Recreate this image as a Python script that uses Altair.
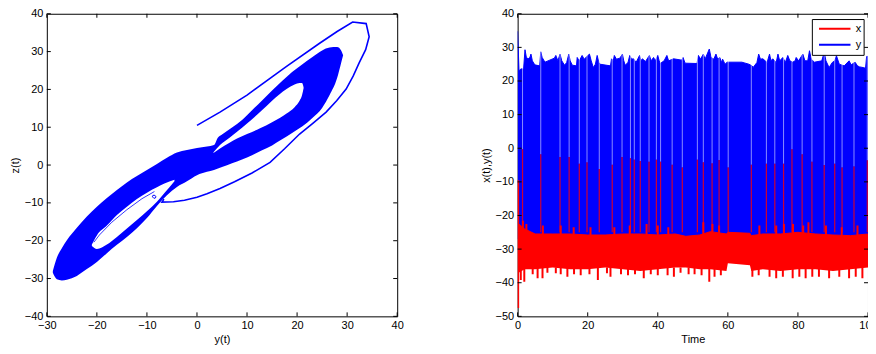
import altair as alt
import pandas as pd

FONT = "Liberation Sans"
BLUE = "#0000ff"
RED = "#ff0000"

# ---------------- left panel: phase portrait z(t) against y(t) ----------------
xticks_left = [-30, -20, -10, 0, 10, 20, 30, 40]
yticks_left = [-40, -30, -20, -10, 0, 10, 20, 30, 40]

# dense band of the attractor: lower / upper edge of the filled region
band_y = [-28.8, -28, -27, -26, -24, -22, -20, -18, -16, -14, -12, -10, -8, -6, -4, -2, 0, 2,
          3.4, 4.2, 5, 7, 9, 11, 13, 15, 17, 19, 21, 23, 25, 26.5, 28, 28.8, 29.2]
band_lo = [-28.5, -30.2, -30.5, -30.3, -29.3, -27.5, -25.6, -23.3, -21.1, -19, -16.7, -14, -10.8,
           -8.0, -5.8, -4.3, -2.7, -1.8, -1.3, -0.9, -0.5, 0.5, 1.5, 2.6, 3.9, 5.2, 6.8, 8.5,
           10.2, 12.4, 15.1, 18.5, 23, 27, 29]
band_hi = [-28, -24.5, -22, -19.9, -16.6, -13.6, -11.0, -8.7, -6.6, -4.6, -2.9, -1.3, 0.3, 1.9,
           3.3, 4.0, 4.5, 4.9, 5.3, 7.3, 8.1, 9.9, 11.9, 14.5, 17.1, 19.7, 22.2, 24.6, 26.6,
           28.5, 30.3, 31.1, 31.2, 30.3, 29]

# empty eye of the upper lobe
eye1_y = [3.3, 4.6, 6.5, 8, 10, 12.6, 15, 17.9, 19.5, 20.5, 21.0, 21.3]
eye1_lo = [3.2, 4.4, 5.9, 7.0, 8.2, 9.7, 11.3, 13.6, 15.3, 17.0, 18.5, 20.3]
eye1_hi = [3.4, 5.3, 7.2, 8.8, 11.0, 14.0, 17.0, 20.1, 21.3, 21.7, 21.7, 20.5]

# empty eye of the lower lobe
eye2_y = [-21.0, -20, -18, -16, -14, -12, -10, -8, -6.5, -4.5]
eye2_lo = [-21.4, -22.2, -21.0, -19.0, -16.8, -14.5, -12.2, -9.7, -7.4, -4.3]
eye2_hi = [-21.0, -18.6, -16.0, -13.2, -11.0, -9.0, -7.3, -5.9, -4.9, -3.9]

# transient outer orbit
orbit_y = [0, 4.6, 10, 17.9, 24.5, 28, 31.1, 33.8, 34.4, 33.7, 32.4, 31.2, 29.8, 27.9, 25.8,
           23.2, 20.5, 17.5, 14.6, 11, 7.5, 4.6, 2, 0, -2.5, -4.7, -7.0, -6.6]
orbit_z = [10.5, 14, 18.5, 26.1, 32.2, 35.3, 37.8, 37.4, 33.9, 30.5, 27, 23.5, 20.1, 17, 14,
           11.1, 8.2, 4.3, 0.7, -2.1, -4.4, -6.2, -7.6, -8.5, -9.3, -9.7, -9.8, -9.0]

# thin strand inside the lower eye
inner_y = [-20.6, -19.5, -17, -14, -11, -8.5]
inner_z = [-20.4, -18.5, -15.1, -11.8, -8.9, -7.0]

# small curl inside the lower eye
curl_y = [-8.2, -8.4, -8.8, -8.9, -8.6, -8.3, -8.2]
curl_z = [-8.4, -8.0, -8.0, -8.4, -8.8, -8.7, -8.4]

# ---------------- right panel: time series ----------------
xticks_right = [0, 20, 40, 60, 80, 100]
yticks_right = [-50, -40, -30, -20, -10, 0, 10, 20, 30, 40]

# upper envelope of y(t)
blue_t = [0, 0.4, 0.9, 1.7, 2.1, 2.5, 3.0, 3.5, 3.8, 4.2,
          4.9, 6.3, 6.6, 7.0, 7.8, 10.5, 10.9, 11.5, 12.1, 12.6,
          13.4, 14.0, 14.6, 15.0, 15.6, 16.8, 17.0, 17.6, 18.4, 19.0,
          20.5, 21.0, 21.6, 22.2, 22.7, 23.2, 23.5, 26.5, 26.8, 27.3,
          27.6, 28.2, 29.2, 29.9, 30.3, 30.7, 31.5, 32.0, 32.5, 33.1,
          33.8, 34.8, 35.2, 35.6, 36.5, 37.6, 38.1, 38.8, 39.3, 40.0,
          40.4, 40.7, 41.8, 42.6, 43.1, 44.5, 46.9, 47.2, 47.8, 51.2,
          51.6, 52.2, 53.0, 53.5, 54.7, 55.2, 56.0, 56.6, 57.1, 57.7,
          58.2, 58.5, 59.2, 59.8, 64.0, 66.0, 66.9, 67.2, 68.3, 68.8,
          69.3, 70.0, 71.2, 71.9, 72.3, 72.8, 73.8, 74.3, 74.8, 75.7,
          76.4, 77.1, 77.7, 78.5, 79.2, 79.5, 80.2, 81.4, 82.0, 82.8,
          83.3, 83.8, 84.7, 86.8, 87.5, 88.0, 88.9, 89.8, 90.5, 91.0,
          91.8, 93.2, 94.6, 95.2, 96.3, 97.0, 97.6, 98.6, 99.3, 99.6,
          100]
blue_top = [34.8, 23.0, 23.6, 23.6, 29.3, 27.0, 26.6, 27.0, 28.0, 26.0,
            24.8, 24.5, 28.7, 27.0, 25.6, 26.8, 27.6, 26.0, 28.0, 26.0,
            24.7, 25.5, 28.0, 26.0, 24.7, 24.5, 27.0, 26.0, 27.6, 26.5,
            28.0, 26.0, 24.0, 25.0, 27.6, 25.5, 25.0, 24.5, 26.6, 26.0,
            27.6, 26.5, 26.8, 28.0, 26.0, 24.7, 25.5, 27.6, 26.5, 26.6,
            25.5, 27.6, 26.0, 26.6, 25.8, 27.6, 26.0, 27.0, 26.0, 27.6,
            26.0, 25.2, 26.0, 27.6, 26.0, 26.6, 26.2, 27.0, 25.3, 25.2,
            27.6, 26.5, 28.0, 26.5, 29.5, 27.0, 26.5, 28.0, 26.5, 27.0,
            25.5, 26.5, 25.0, 25.6, 25.6, 25.0, 24.5, 24.0, 25.5, 28.0,
            26.5, 26.6, 25.5, 28.0, 26.0, 26.6, 25.5, 28.0, 26.0, 27.0,
            25.5, 27.6, 26.0, 25.6, 26.0, 27.0, 26.0, 28.0, 26.0, 26.0,
            29.0, 26.5, 25.6, 26.0, 28.5, 26.0, 24.0, 25.5, 26.0, 27.5,
            25.0, 24.5, 26.0, 24.8, 25.6, 24.5, 24.2, 24.0, 23.8, 27.3,
            27.3]
blue_floor = -27.0

# envelope of x(t)
red_t = [0.3, 2, 5, 10, 15, 20, 25, 30, 35, 40, 45, 48, 52, 55, 59.6, 60.0, 66.3, 66.7,
         70, 75, 80, 85, 90, 95, 100]
red_lo = [-37, -36, -36, -35.5, -36, -36, -35.5, -36, -36.5, -36, -35.5, -35.5, -36, -36,
          -36.5, -34.2, -34.8, -36.5, -36, -36.5, -36, -36, -36.5, -36, -35.5]
red_hi = [-22.5, -24, -25.5, -25.5, -25.5, -25.8, -25.8, -25.5, -25.5, -25.8, -25.5, -26.2,
          -25.8, -24.8, -25.5, -25.0, -25.3, -26, -25.5, -25.5, -25, -25.5, -25.8, -26, -25.5]

# downward teeth of x(t)
dn_t = [0.9, 1.9, 4.3, 5.7, 7.1, 8.5, 10.9, 12.3, 14.2, 16.1,
        18.0, 20.5, 22.9, 25.5, 26.5, 29.5, 31.5, 33.5, 36.0, 38.0,
        40.0, 42.8, 44.6, 46.5, 48.8, 50.5, 52.5, 54.7, 56.2, 58.0,
        67.0, 68.8, 71.9, 73.8, 75.7, 78.5, 80.4, 82.2, 84.1, 86.0,
        88.9, 91.8, 94.6, 96.5, 98.4]
dn_v = [-39.2, -39.7, -37.5, -38.7, -38.7, -37.0, -37.2, -37.5, -38.2, -37.5,
        -37.8, -37.5, -39.2, -37.2, -38.2, -37.5, -37.8, -37.5, -38.7, -37.5,
        -37.8, -37.8, -38.2, -37.0, -37.5, -37.5, -37.8, -39.7, -38.2, -37.8,
        -38.2, -37.8, -38.2, -38.7, -38.2, -38.7, -38.2, -38.7, -38.2, -38.2,
        -38.7, -38.2, -38.7, -38.2, -38.7]

# upward bumps of x(t)
up_t = [1.5, 2.5, 7.2, 12.3, 16.0, 20.8, 27.6, 32.0, 36.8, 40.0, 43.0, 53.0, 55.6, 57.5,
        69.0, 73.8, 76.0, 78.6, 81.5, 83.0, 88.0, 92.5, 97.0]
up_v = [-21.6, -22.5, -23.0, -23.0, -23.5, -23.5, -23.5, -23.0, -22.5, -23.0, -23.5, -22.0,
        -22.5, -23.0, -23.0, -23.0, -22.5, -22.5, -23.0, -22.0, -23.0, -23.5, -23.0]

# switching spikes of x(t) (thin lines reaching near zero)
spike_t = [1.4, 6.6, 12.1, 14.7, 17.6, 19.8, 23.3, 27.0, 29.8, 32.2,
           33.3, 35.0, 37.5, 39.6, 40.8, 44.1, 47.0, 51.3, 53.0, 55.5,
           57.5, 60.1, 66.7, 71.0, 73.4, 75.9, 78.3, 81.2, 84.0, 87.5,
           90.5, 92.6, 96.0, 99.8]
spike_v = [-0.3, -1.8, -2.6, -2.6, -4.6, -4.2, -6.2, -4.9, -2.6, -3.0,
           -3.4, -3.8, -4.0, -3.4, -4.0, -4.9, -5.7, -3.4, -4.2, -4.5,
           -3.5, -5.7, -4.9, -4.6, -4.6, -4.6, -0.3, -1.8, -4.0, -5.0,
           -4.6, -5.7, -5.4, -3.6]

# initial transient of x(t)
init_t = [0.15]
init_lo = [-47.5]
init_hi = [-9.5]

series_names = ["x", "y"]
series_colors = [RED, BLUE]

W, H = 352, 304
TICK = 4

axis_common = dict(domain=False, ticks=False, tickSize=0, grid=False, labelFlush=False,
                   labelOverlap=False, labelFont=FONT, labelFontSize=11, labelColor="#000000",
                   titleFont=FONT, titleFontSize=11, titleFontWeight="normal",
                   titleColor="#000000")


def panel_axes(xticks, yticks, xdom, ydom, xtitle, ytitle):
    xs = alt.Scale(domain=xdom, nice=False, zero=False)
    ys = alt.Scale(domain=ydom, nice=False, zero=False)
    ax = alt.Axis(values=xticks, labelPadding=3, titlePadding=3, **axis_common)
    ay = alt.Axis(values=yticks, labelPadding=4, titlePadding=4, **axis_common)

    def X(f):
        return alt.X(f, scale=xs, axis=ax, title=xtitle)

    def Y(f):
        return alt.Y(f, scale=ys, axis=ay, title=ytitle, stack=None)

    tx = pd.DataFrame({"v": xticks})
    ty = pd.DataFrame({"v": yticks})
    ticks = [
        alt.Chart(tx).mark_rule(color="#000000", strokeWidth=1).encode(
            x=X("v:Q"), y=alt.value(H), y2=alt.value(H - TICK)),
        alt.Chart(tx).mark_rule(color="#000000", strokeWidth=1).encode(
            x=X("v:Q"), y=alt.value(0), y2=alt.value(TICK)),
        alt.Chart(ty).mark_rule(color="#000000", strokeWidth=1).encode(
            y=Y("v:Q"), x=alt.value(0), x2=alt.value(TICK)),
        alt.Chart(ty).mark_rule(color="#000000", strokeWidth=1).encode(
            y=Y("v:Q"), x=alt.value(W), x2=alt.value(W - TICK)),
    ]
    return X, Y, ticks


# ---- left chart
XL, YL, ticksL = panel_axes(xticks_left, yticks_left, [-30, 40], [-40, 40], "y(t)", "z(t)")

band_df = pd.DataFrame({"y": band_y, "lo": band_lo, "hi": band_hi})
eye1_df = pd.DataFrame({"y": eye1_y, "lo": eye1_lo, "hi": eye1_hi})
eye2_df = pd.DataFrame({"y": eye2_y, "lo": eye2_lo, "hi": eye2_hi})
orbit_df = pd.DataFrame({"y": orbit_y, "z": orbit_z, "i": range(len(orbit_y))})
inner_df = pd.DataFrame({"y": inner_y, "z": inner_z, "i": range(len(inner_y))})
curl_df = pd.DataFrame({"y": curl_y, "z": curl_z, "i": range(len(curl_y))})

left_layers = [
    alt.Chart(band_df).mark_area(color=BLUE, clip=True, interpolate="monotone").encode(
        x=XL("y:Q"), y=YL("lo:Q"), y2="hi:Q"),
    alt.Chart(eye1_df).mark_area(color="#ffffff", clip=True, interpolate="monotone").encode(
        x=XL("y:Q"), y=YL("lo:Q"), y2="hi:Q"),
    alt.Chart(eye2_df).mark_area(color="#ffffff", clip=True, interpolate="monotone").encode(
        x=XL("y:Q"), y=YL("lo:Q"), y2="hi:Q"),
    alt.Chart(orbit_df).mark_line(color=BLUE, strokeWidth=1.6, clip=True).encode(
        x=XL("y:Q"), y=YL("z:Q"), order="i:Q"),
    alt.Chart(inner_df).mark_line(color=BLUE, strokeWidth=0.8, clip=True).encode(
        x=XL("y:Q"), y=YL("z:Q"), order="i:Q"),
    alt.Chart(curl_df).mark_line(color=BLUE, strokeWidth=1.0, clip=True).encode(
        x=XL("y:Q"), y=YL("z:Q"), order="i:Q"),
] + ticksL

left = alt.layer(*left_layers).properties(width=W, height=H)

# ---- right chart
XR, YR, ticksR = panel_axes(xticks_right, yticks_right, [0, 100], [-50, 40], "Time", "x(t),y(t)")

color_scale = alt.Scale(domain=series_names, range=series_colors)
legend = alt.Legend(title=None, orient="none", legendX=295.6, legendY=5.3, direction="vertical",
                    symbolType="stroke", symbolSize=1000, symbolStrokeWidth=2, clipHeight=15.5,
                    rowPadding=0, padding=2, symbolOffset=4, labelOffset=4, labelFontSize=11,
                    labelFont=FONT, labelColor="#000000", strokeColor="#000000",
                    fillColor="#ffffff")
color_enc = alt.Color("series:N", scale=color_scale, legend=legend)

blue_df = pd.DataFrame({"t": blue_t, "top": blue_top, "floor": [blue_floor] * len(blue_t),
                        "series": ["y"] * len(blue_t)})
red_df = pd.DataFrame({"t": red_t, "lo": red_lo, "hi": red_hi, "series": ["x"] * len(red_t)})
dn_df = pd.DataFrame({"t": dn_t, "v": dn_v, "base": [-35.5] * len(dn_t)})
up_df = pd.DataFrame({"t": up_t, "v": up_v, "base": [-26.0] * len(up_t)})
spike_df = pd.DataFrame({"t": spike_t, "v": spike_v, "base": [-25.0] * len(spike_t),
                         "ceil": [30.0] * len(spike_t)})
init_df = pd.DataFrame({"t": init_t, "lo": init_lo, "hi": init_hi})

right_layers = [
    alt.Chart(blue_df).mark_area(color=BLUE, clip=True).encode(
        x=XR("t:Q"), y=YR("floor:Q"), y2="top:Q"),
    alt.Chart(blue_df).mark_line(strokeWidth=1, clip=True).encode(
        x=XR("t:Q"), y=YR("top:Q"), color=color_enc),
    alt.Chart(spike_df).mark_rule(color="#ffffff", opacity=0.55, strokeWidth=1, clip=True).encode(
        x=XR("t:Q"), y=YR("v:Q"), y2="ceil:Q"),
    alt.Chart(red_df).mark_area(color=RED, clip=True).encode(
        x=XR("t:Q"), y=YR("lo:Q"), y2="hi:Q"),
    alt.Chart(red_df).mark_line(strokeWidth=1, clip=True).encode(
        x=XR("t:Q"), y=YR("hi:Q"), color=color_enc),
    alt.Chart(dn_df).mark_rule(color=RED, strokeWidth=2, clip=True).encode(
        x=XR("t:Q"), y=YR("v:Q"), y2="base:Q"),
    alt.Chart(up_df).mark_rule(color=RED, strokeWidth=2, clip=True).encode(
        x=XR("t:Q"), y=YR("v:Q"), y2="base:Q"),
    alt.Chart(spike_df).mark_rule(color=RED, opacity=0.8, strokeWidth=1.2, clip=True).encode(
        x=XR("t:Q"), y=YR("v:Q"), y2="base:Q"),
    alt.Chart(init_df).mark_rule(color=RED, strokeWidth=2, clip=True).encode(
        x=XR("t:Q"), y=YR("lo:Q"), y2="hi:Q"),
] + ticksR

right = alt.layer(*right_layers).properties(width=W, height=H)

chart = alt.hconcat(left, right, spacing=75,
                    padding={"left": 0, "top": -2, "right": -10, "bottom": 0}).resolve_scale(
    color="independent").resolve_legend(color="independent").configure_view(
    stroke="#000000", strokeWidth=1)

chart.save("out.html", embed_options={"renderer": "svg", "actions": False})
